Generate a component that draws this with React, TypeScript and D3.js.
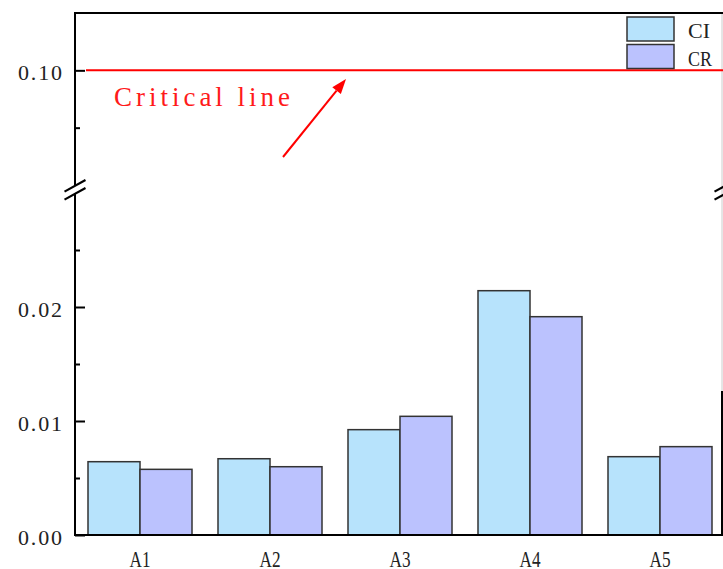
import React, { useEffect, useRef } from "react";
import * as d3 from "d3";

const categories = ["A1", "A2", "A3", "A4", "A5"];
const seriesNames = ["CI", "CR"];
const ciValues = [0.00643, 0.00669, 0.00924, 0.02143, 0.00687];
const crValues = [0.00576, 0.00599, 0.01041, 0.01915, 0.00775];
const lowerTicks = [0, 0.01, 0.02];
const lowerMinor = [0.005, 0.015, 0.025];
const upperTicks = [0.1];
const upperMinor = [0.09];
const criticalValue = 0.1;
const colors = ["#B7E3FC", "#BBC2FE"];

const W = 723;
const H = 569;

export default function App() {
  const ref = useRef<SVGSVGElement | null>(null);

  useEffect(() => {
    const svg = d3.select(ref.current);
    svg.selectAll("*").remove();

    const left = 75;
    const right = 722;
    const bottom = 535;
    const top = 13;

    const x = d3.scaleBand<string>().domain(categories).range([left, 725]).paddingInner(0.2).paddingOuter(0.1);
    const xs = d3.scaleBand<string>().domain(seriesNames).range([0, x.bandwidth()]);
    const yLow = d3.scaleLinear().domain([0, 0.03]).range([bottom, 193]);
    const yHigh = d3.scaleLinear().domain([0.08, 0.11]).range([185, top]);

    const font = "'Liberation Serif', serif";

    // bars
    const data = categories.map((c, i) => ({ c, vals: [ciValues[i], crValues[i]] }));
    const g = svg.append("g");
    data.forEach((d) => {
      d.vals.forEach((v, j) => {
        g.append("rect")
          .attr("x", (x(d.c) as number) + (xs(seriesNames[j]) as number))
          .attr("y", yLow(v))
          .attr("width", xs.bandwidth())
          .attr("height", bottom - yLow(v))
          .attr("fill", colors[j])
          .attr("stroke", "#333")
          .attr("stroke-width", 1.5);
      });
    });

    // right frame
    svg.append("line").attr("x1", right).attr("x2", right).attr("y1", top).attr("y2", 391)
      .attr("stroke", "#ccc").attr("stroke-width", 1);
    svg.append("line").attr("x1", right).attr("x2", right).attr("y1", 391).attr("y2", bottom)
      .attr("stroke", "#000").attr("stroke-width", 2);

    // top frame
    svg.append("line").attr("x1", left - 1).attr("x2", W).attr("y1", top).attr("y2", top)
      .attr("stroke", "#000").attr("stroke-width", 2);

    // critical line
    svg.append("line").attr("x1", left + 11).attr("x2", W).attr("y1", yHigh(criticalValue)).attr("y2", yHigh(criticalValue))
      .attr("stroke", "#ff0000").attr("stroke-width", 2);

    const styleTickText = (sel: any) =>
      sel.selectAll(".tick text").attr("font-family", font).attr("font-size", 22).attr("fill", "#222")
        .attr("dy", "0.41em").attr("textLength", 44).attr("lengthAdjust", "spacing");

    // left axes
    const axLow = d3.axisLeft(yLow).tickValues(lowerTicks).tickSizeInner(-10).tickSizeOuter(0).tickPadding(13)
      .tickFormat((d) => d3.format(".2f")(d as number));
    const gl = svg.append("g").attr("transform", `translate(${left},0)`).call(axLow);
    gl.select(".domain").remove();
    gl.selectAll(".tick line").attr("stroke", "#000").attr("stroke-width", 2);
    styleTickText(gl);

    const axLowMinor = d3.axisLeft(yLow).tickValues(lowerMinor).tickSizeInner(-5).tickSizeOuter(0).tickFormat(() => "");
    const glm = svg.append("g").attr("transform", `translate(${left},0)`).call(axLowMinor);
    glm.select(".domain").remove();
    glm.selectAll(".tick line").attr("stroke", "#000").attr("stroke-width", 2);

    const axHigh = d3.axisLeft(yHigh).tickValues(upperTicks).tickSizeInner(-10).tickSizeOuter(0).tickPadding(13)
      .tickFormat((d) => d3.format(".2f")(d as number));
    const gh = svg.append("g").attr("transform", `translate(${left},0)`).call(axHigh);
    gh.select(".domain").remove();
    gh.selectAll(".tick line").attr("stroke", "#000").attr("stroke-width", 2);
    styleTickText(gh);

    const axHighMinor = d3.axisLeft(yHigh).tickValues(upperMinor).tickSizeInner(-5).tickSizeOuter(0).tickFormat(() => "");
    const ghm = svg.append("g").attr("transform", `translate(${left},0)`).call(axHighMinor);
    ghm.select(".domain").remove();
    ghm.selectAll(".tick line").attr("stroke", "#000").attr("stroke-width", 2);

    // left axis line segments
    svg.append("line").attr("x1", left).attr("x2", left).attr("y1", top - 1).attr("y2", 186)
      .attr("stroke", "#000").attr("stroke-width", 2);
    svg.append("line").attr("x1", left).attr("x2", left).attr("y1", 193).attr("y2", bottom + 1)
      .attr("stroke", "#000").attr("stroke-width", 2);

    // break marks
    const breakMarks = (cx: number) => {
      [185.8, 193.8].forEach((cy) => {
        svg.append("line").attr("x1", cx - 10.5).attr("y1", cy + 5.8).attr("x2", cx + 10.5).attr("y2", cy - 5.8)
          .attr("stroke", "#000").attr("stroke-width", 2.2);
      });
    };
    breakMarks(left);
    breakMarks(725);

    // bottom axis
    svg.append("line").attr("x1", left - 1).attr("x2", W).attr("y1", bottom).attr("y2", bottom)
      .attr("stroke", "#000").attr("stroke-width", 2.2);
    const axX = d3.axisBottom(x).tickSize(0).tickPadding(0);
    const gx = svg.append("g").attr("transform", `translate(0,${bottom})`).call(axX);
    gx.select(".domain").remove();
    gx.selectAll(".tick text").attr("font-family", font).attr("font-size", 24).attr("fill", "#222")
      .attr("dy", null).attr("y", 32).attr("textLength", 21).attr("lengthAdjust", "spacingAndGlyphs");

    // legend
    seriesNames.forEach((s, i) => {
      const ly = 17 + i * 27.5;
      svg.append("rect").attr("x", 627).attr("y", ly).attr("width", 47).attr("height", 24)
        .attr("fill", colors[i]).attr("stroke", "#333").attr("stroke-width", 1.5);
      svg.append("text").attr("x", 688).attr("y", ly + 21).attr("font-family", font).attr("font-size", 22)
        .attr("fill", "#222").attr("textLength", i === 0 ? 22 : 24).attr("lengthAdjust", "spacingAndGlyphs").text(s);
    });

    // annotation
    svg.append("text").attr("x", 114).attr("y", 106).attr("font-family", font).attr("font-size", 27)
      .attr("fill", "#ff1a1a").attr("textLength", 176).attr("lengthAdjust", "spacing").text("Critical line");

    const ax0 = 283, ay0 = 157, ax1 = 346, ay1 = 79;
    const len = Math.hypot(ax1 - ax0, ay1 - ay0);
    const ux = (ax1 - ax0) / len, uy = (ay1 - ay0) / len;
    const hl = 15, hw = 5.5;
    const bx = ax1 - ux * hl, by = ay1 - uy * hl;
    svg.append("line").attr("x1", ax0).attr("y1", ay0).attr("x2", bx).attr("y2", by)
      .attr("stroke", "#ff0000").attr("stroke-width", 2);
    svg.append("polygon")
      .attr("points", [[ax1, ay1], [bx - uy * hw, by + ux * hw], [bx + uy * hw, by - ux * hw]].map((p) => p.join(",")).join(" "))
      .attr("fill", "#ff0000");
  }, []);

  return (
    <svg ref={ref} width={W} height={H} style={{ position: "absolute", left: 0, top: 0, background: "#fff" }} />
  );
}
